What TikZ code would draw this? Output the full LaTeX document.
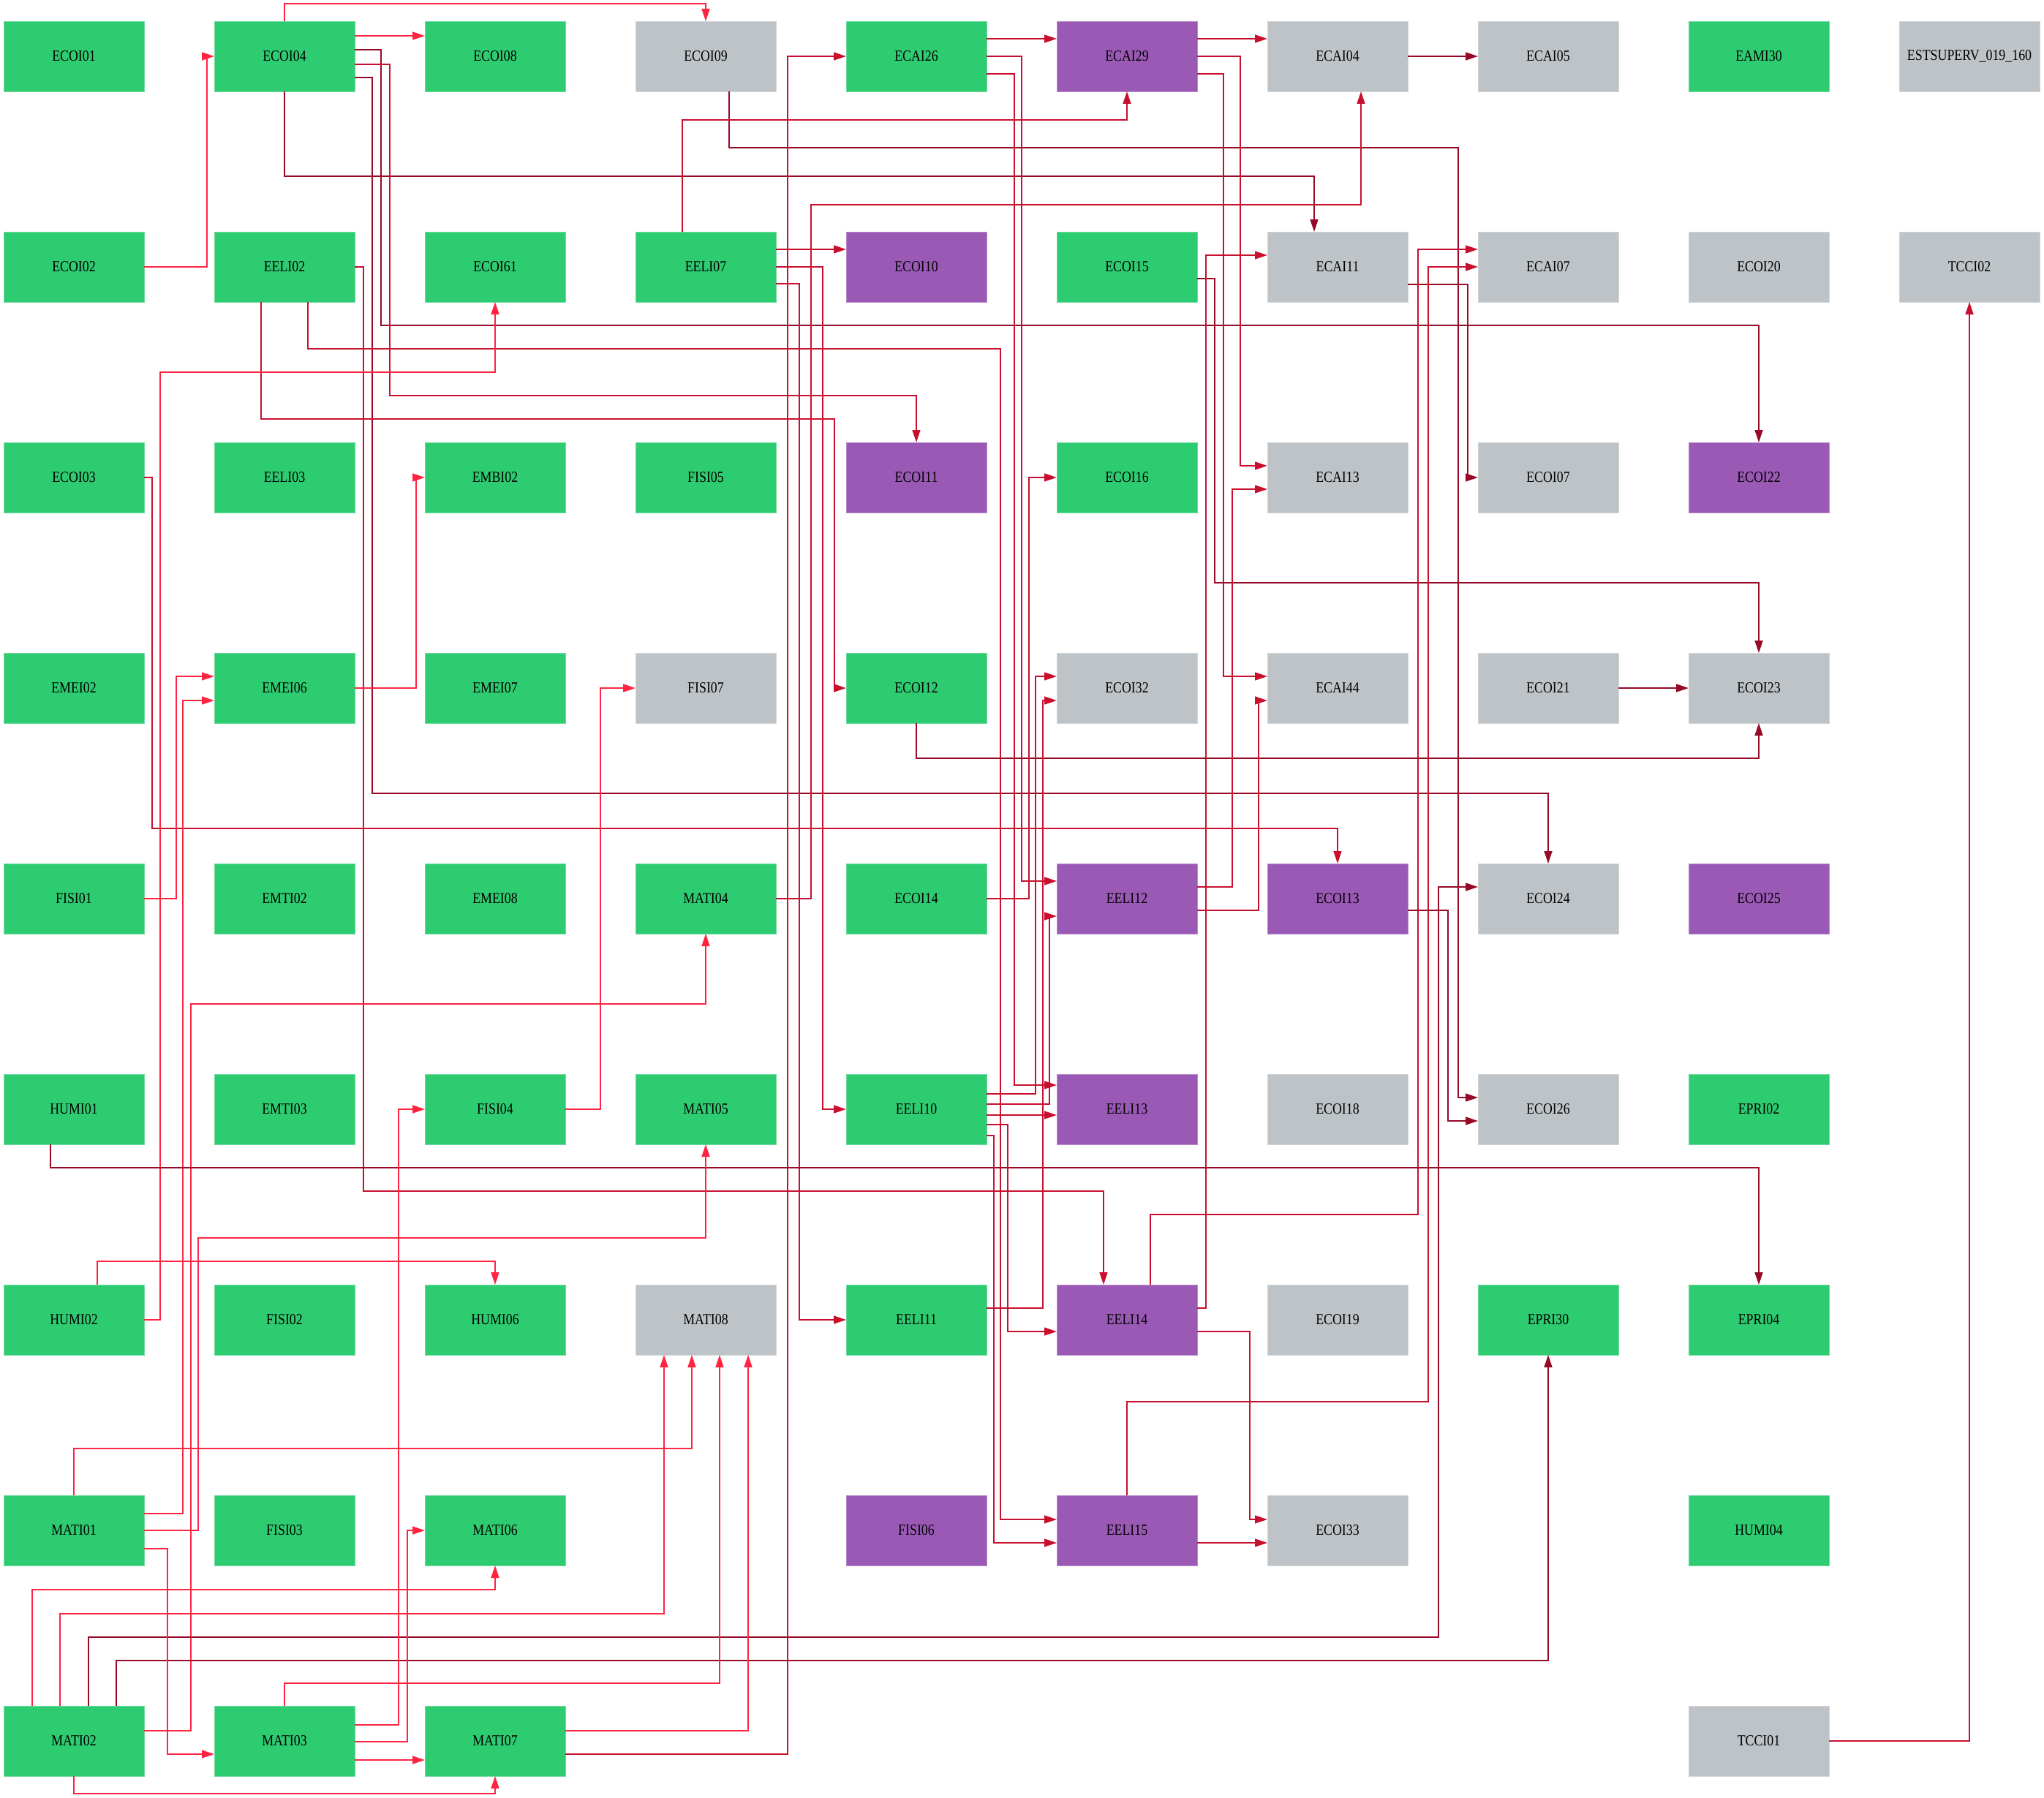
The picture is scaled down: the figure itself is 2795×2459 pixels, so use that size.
\documentclass[tikz,border=0pt]{standalone}
\usepackage{fontspec}
\setmainfont{Liberation Serif}[FakeStretch=0.85]
\usetikzlibrary{arrows.meta,calc}
\definecolor{cg}{HTML}{2ECC71}
\definecolor{cp}{HTML}{9B59B6}
\definecolor{ck}{HTML}{BDC3C7}
\definecolor{eb}{HTML}{FF2442}
\definecolor{em}{HTML}{C8102E}
\definecolor{ed}{HTML}{960A28}
\tikzset{
  box/.style={rectangle, minimum width=192pt, minimum height=96pt, inner sep=0pt, outer sep=0pt,
    font=\fontsize{21pt}{24pt}\selectfont, text=black, line width=0.8pt},
  gn/.style={box, fill=cg, draw=cg!70!white},
  pn/.style={box, fill=cp, draw=cp!70!white},
  kn/.style={box, fill=ck, draw=ck!70!white},
  edge/.style={line width=1.6pt, -{Triangle[length=17pt,width=11pt]}},
  eb/.style={edge, draw=eb},
  em/.style={edge, draw=em},
  ed/.style={edge, draw=ed}
}
\begin{document}
\begin{tikzpicture}[x=1pt,y=-1pt]
\useasboundingbox (0,0) rectangle (2795,2459);
% row 0
\node[gn] (ECOI01) at (101,77) {ECOI01};
\node[gn] (ECOI04) at (389,77) {ECOI04};
\node[gn] (ECOI08) at (677,77) {ECOI08};
\node[kn] (ECOI09) at (965,77) {ECOI09};
\node[gn] (ECAI26) at (1253,77) {ECAI26};
\node[pn] (ECAI29) at (1541,77) {ECAI29};
\node[kn] (ECAI04) at (1829,77) {ECAI04};
\node[kn] (ECAI05) at (2117,77) {ECAI05};
\node[gn] (EAMI30) at (2405,77) {EAMI30};
\node[kn] (EST) at (2693,77) {ESTSUPERV\_019\_160};
% row 1
\node[gn] (ECOI02) at (101,365) {ECOI02};
\node[gn] (EELI02) at (389,365) {EELI02};
\node[gn] (ECOI61) at (677,365) {ECOI61};
\node[gn] (EELI07) at (965,365) {EELI07};
\node[pn] (ECOI10) at (1253,365) {ECOI10};
\node[gn] (ECOI15) at (1541,365) {ECOI15};
\node[kn] (ECAI11) at (1829,365) {ECAI11};
\node[kn] (ECAI07) at (2117,365) {ECAI07};
\node[kn] (ECOI20) at (2405,365) {ECOI20};
\node[kn] (TCCI02) at (2693,365) {TCCI02};
% row 2
\node[gn] (ECOI03) at (101,653) {ECOI03};
\node[gn] (EELI03) at (389,653) {EELI03};
\node[gn] (EMBI02) at (677,653) {EMBI02};
\node[gn] (FISI05) at (965,653) {FISI05};
\node[pn] (ECOI11) at (1253,653) {ECOI11};
\node[gn] (ECOI16) at (1541,653) {ECOI16};
\node[kn] (ECAI13) at (1829,653) {ECAI13};
\node[kn] (ECOI07) at (2117,653) {ECOI07};
\node[pn] (ECOI22) at (2405,653) {ECOI22};
% row 3
\node[gn] (EMEI02) at (101,941) {EMEI02};
\node[gn] (EMEI06) at (389,941) {EMEI06};
\node[gn] (EMEI07) at (677,941) {EMEI07};
\node[kn] (FISI07) at (965,941) {FISI07};
\node[gn] (ECOI12) at (1253,941) {ECOI12};
\node[kn] (ECOI32) at (1541,941) {ECOI32};
\node[kn] (ECAI44) at (1829,941) {ECAI44};
\node[kn] (ECOI21) at (2117,941) {ECOI21};
\node[kn] (ECOI23) at (2405,941) {ECOI23};
% row 4
\node[gn] (FISI01) at (101,1229) {FISI01};
\node[gn] (EMTI02) at (389,1229) {EMTI02};
\node[gn] (EMEI08) at (677,1229) {EMEI08};
\node[gn] (MATI04) at (965,1229) {MATI04};
\node[gn] (ECOI14) at (1253,1229) {ECOI14};
\node[pn] (EELI12) at (1541,1229) {EELI12};
\node[pn] (ECOI13) at (1829,1229) {ECOI13};
\node[kn] (ECOI24) at (2117,1229) {ECOI24};
\node[pn] (ECOI25) at (2405,1229) {ECOI25};
% row 5
\node[gn] (HUMI01) at (101,1517) {HUMI01};
\node[gn] (EMTI03) at (389,1517) {EMTI03};
\node[gn] (FISI04) at (677,1517) {FISI04};
\node[gn] (MATI05) at (965,1517) {MATI05};
\node[gn] (EELI10) at (1253,1517) {EELI10};
\node[pn] (EELI13) at (1541,1517) {EELI13};
\node[kn] (ECOI18) at (1829,1517) {ECOI18};
\node[kn] (ECOI26) at (2117,1517) {ECOI26};
\node[gn] (EPRI02) at (2405,1517) {EPRI02};
% row 6
\node[gn] (HUMI02) at (101,1805) {HUMI02};
\node[gn] (FISI02) at (389,1805) {FISI02};
\node[gn] (HUMI06) at (677,1805) {HUMI06};
\node[kn] (MATI08) at (965,1805) {MATI08};
\node[gn] (EELI11) at (1253,1805) {EELI11};
\node[pn] (EELI14) at (1541,1805) {EELI14};
\node[kn] (ECOI19) at (1829,1805) {ECOI19};
\node[gn] (EPRI30) at (2117,1805) {EPRI30};
\node[gn] (EPRI04) at (2405,1805) {EPRI04};
% row 7
\node[gn] (MATI01) at (101,2093) {MATI01};
\node[gn] (FISI03) at (389,2093) {FISI03};
\node[gn] (MATI06) at (677,2093) {MATI06};
\node[pn] (FISI06) at (1253,2093) {FISI06};
\node[pn] (EELI15) at (1541,2093) {EELI15};
\node[kn] (ECOI33) at (1829,2093) {ECOI33};
\node[gn] (HUMI04) at (2405,2093) {HUMI04};
% row 8
\node[gn] (MATI02) at (101,2381) {MATI02};
\node[gn] (MATI03) at (389,2381) {MATI03};
\node[gn] (MATI07) at (677,2381) {MATI07};
\node[kn] (TCCI01) at (2405,2381) {TCCI01};

% ---------- edges ----------
% top area
\draw[eb] (ECOI04.north) -- (389,5) -| (ECOI09.north);
\draw[eb] ($(ECOI04.east)+(0,-28)$) -- ($(ECOI08.west)+(0,-28)$);
\draw[eb] (ECOI02.east) -| (283,77) -- (ECOI04.west);
\draw[ed] (ECOI04.south) |- (1797,241) -- ($(ECAI11.north)+(-32,0)$);
\draw[ed] ($(ECOI04.east)+(0,-9)$) -| (521,445) -| (ECOI22.north);
\draw[em] ($(ECOI04.east)+(0,11)$) -| (533,541) -| (ECOI11.north);
\draw[ed] ($(ECOI04.east)+(0,29)$) -| (509,1085) -| (ECOI24.north);
\draw[em] (EELI02.east) -| (497,1629) -| ($(EELI14.north)+(-32,0)$);
\draw[em] ($(EELI02.south)+(-32,0)$) |- (1141,573) |- (ECOI12.west);
\draw[em] ($(EELI02.south)+(32,0)$) |- (1368,477) |- ($(EELI15.west)+(0,-15)$);
\draw[ed] ($(ECOI09.south)+(32,0)$) |- (1994,202) |- ($(ECOI26.west)+(0,-16)$);
\draw[em] ($(EELI07.north)+(-32,0)$) |- (1541,164) -- (ECAI29.south);
\draw[em] ($(ECAI26.east)+(0,-24)$) -- ($(ECAI29.west)+(0,-24)$);
\draw[em] ($(ECAI29.east)+(0,-24)$) -- ($(ECAI04.west)+(0,-24)$);
\draw[ed] (ECAI04.east) -- (ECAI05.west);
\draw[em] (ECAI26.east) -| (1397,1205) -- ($(EELI12.west)+(0,-24)$);
\draw[em] ($(ECAI26.east)+(0,24)$) -| (1387,1484) -- ($(EELI13.west)+(0,-33)$);
\draw[em] (ECAI29.east) -| (1696,637) -- ($(ECAI13.west)+(0,-16)$);
\draw[em] ($(ECAI29.east)+(0,24)$) -| (1673,925) -- ($(ECAI44.west)+(0,-16)$);
\draw[em] ($(EELI07.east)+(0,-24)$) -- ($(ECOI10.west)+(0,-24)$);
\draw[em] (EELI07.east) -| (1125,1517) -- (EELI10.west);
\draw[em] ($(EELI07.east)+(0,23)$) -| (1093,1805) -- (EELI11.west);
\draw[em] (MATI04.east) -| (1109,280) -| ($(ECAI04.south)+(32,0)$);
\draw[em] ($(MATI07.east)+(0,18)$) -| (1077,77) -- (ECAI26.west);
\draw[ed] ($(ECOI15.east)+(0,16)$) -| (1661,797) -| (ECOI23.north);
\draw[em] ($(EELI14.east)+(0,-16)$) -| (1649,349) -- ($(ECAI11.west)+(0,-16)$);
\draw[ed] ($(ECAI11.east)+(0,24)$) -| (2007,653) -- (ECOI07.west);
\draw[em] ($(EELI14.north)+(32,0)$) |- (1939,1661) |- ($(ECAI07.west)+(0,-24)$);
\draw[em] (EELI15.north) |- (1953,1917) |- (ECAI07.west);
% middle
\draw[em] (ECOI03.east) -| (208,1133) -| (ECOI13.north);
\draw[eb] (EMEI06.east) -| (569,653) -- (EMBI02.west);
\draw[eb] (HUMI02.east) -| (219,509) -| (ECOI61.south);
\draw[eb] (FISI01.east) -| (241,925) -- ($(EMEI06.west)+(0,-16)$);
\draw[eb] ($(MATI01.east)+(0,-23)$) -| (250,958) -- ($(EMEI06.west)+(0,17)$);
\draw[ed] (ECOI12.south) |- (2405,1037) -- (ECOI23.south);
\draw[ed] (ECOI21.east) -- (ECOI23.west);
\draw[eb] (FISI04.east) -| (821,941) -- (FISI07.west);
\draw[eb] ($(MATI02.east)+(0,-14)$) -| (261,1373) -| (MATI04.south);
\draw[em] (ECOI14.east) -| (1407,653) -- (ECOI16.west);
\draw[em] ($(EELI12.east)+(0,-16)$) -| (1685,669) -- ($(ECAI13.west)+(0,16)$);
\draw[em] ($(EELI12.east)+(0,16)$) -| (1721,958) -- ($(ECAI44.west)+(0,17)$);
\draw[ed] ($(ECOI13.east)+(0,16)$) -| (1980,1533) -- ($(ECOI26.west)+(0,16)$);
\draw[ed] ($(MATI02.north)+(20,0)$) |- (1967,2239) |- ($(ECOI24.west)+(0,-16)$);
\draw[ed] ($(MATI02.north)+(58,0)$) |- (2117,2271) -- (EPRI30.south);
\draw[ed] ($(HUMI01.south)+(-32,0)$) |- (2405,1597) -- (EPRI04.north);
\draw[em] (TCCI01.east) -| (TCCI02.south);
% EELI block
\draw[em] ($(EELI10.east)+(0,-7)$) -| (1435,1253) -- ($(EELI12.west)+(0,24)$);
\draw[em] ($(EELI10.east)+(0,8)$) -- ($(EELI13.west)+(0,8)$);
\draw[em] ($(EELI10.east)+(0,-21)$) -| (1416,925) -- ($(ECOI32.west)+(0,-16)$);
\draw[em] ($(EELI10.east)+(0,21)$) -| (1378,1821) -- ($(EELI14.west)+(0,16)$);
\draw[em] ($(EELI10.east)+(0,36)$) -| (1359,2110) -- ($(EELI15.west)+(0,17)$);
\draw[em] ($(EELI11.east)+(0,-16)$) -| (1426,958) -- ($(ECOI32.west)+(0,17)$);
\draw[em] ($(EELI14.east)+(0,16)$) -| (1709,2078) -- ($(ECOI33.west)+(0,-15)$);
\draw[em] ($(EELI15.east)+(0,17)$) -- ($(ECOI33.west)+(0,17)$);
% bottom left
\draw[eb] ($(HUMI02.north)+(32,0)$) |- (677,1725) -- (HUMI06.north);
\draw[eb] (MATI01.north) |- (946,1981) -- ($(MATI08.south)+(-19,0)$);
\draw[eb] ($(MATI02.north)+(-19,0)$) |- (908,2207) -- ($(MATI08.south)+(-57,0)$);
\draw[eb] ($(MATI02.north)+(-57,0)$) |- (677,2174) -- (MATI06.south);
\draw[eb] (MATI03.north) |- (984,2302) -- ($(MATI08.south)+(19,0)$);
\draw[eb] ($(MATI07.east)+(0,-14)$) -| ($(MATI08.south)+(58,0)$);
\draw[eb] ($(MATI03.east)+(0,-22)$) -| (545,1517) -- (FISI04.west);
\draw[eb] ($(MATI03.east)+(0,1)$) -| (557,2093) -- (MATI06.west);
\draw[eb] ($(MATI03.east)+(0,26)$) -- ($(MATI07.west)+(0,26)$);
\draw[eb] (MATI02.south) |- (677,2453) -- (MATI07.south);
\draw[eb] ($(MATI01.east)+(0,25)$) -| (229,2399) -- ($(MATI03.west)+(0,18)$);
\draw[eb] (MATI01.east) -| (271,1693) -| (MATI05.south);
\end{tikzpicture}
\end{document}
